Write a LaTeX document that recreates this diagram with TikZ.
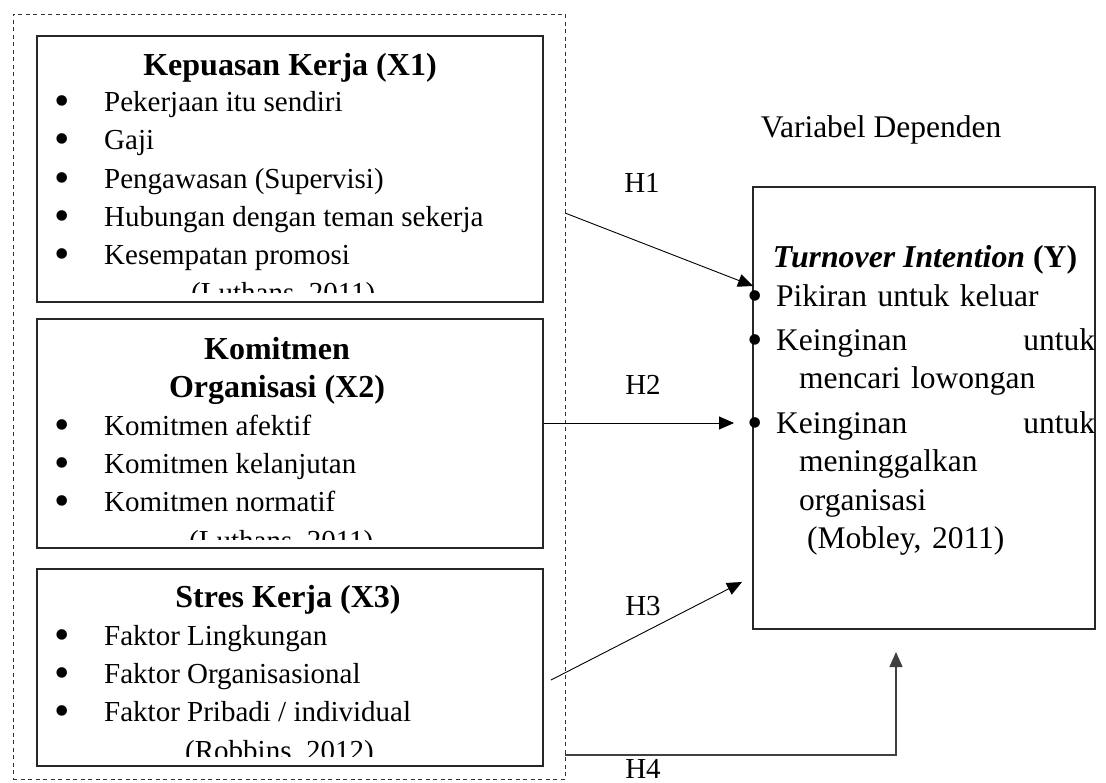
\documentclass[tikz,border=0pt]{standalone}
\usepackage{fontspec}
\setmainfont{Liberation Serif}
\usetikzlibrary{arrows.meta, positioning}

\newcommand{\bigbul}{\makebox[0pt]{\raisebox{-4pt}{\fontsize{44}{44}\selectfont\textbullet}}}
\newcommand{\itembul}{\leavevmode\makebox[47pt][l]{\hspace{5pt}\bigbul}}
\newcommand{\ybul}{\leavevmode\llap{\bigbul\hspace{21pt}}}

\begin{document}
\begin{tikzpicture}[
    x=1pt, y=-1pt,
    varbox/.style={draw=black!85, line width=1.1pt, minimum width=506pt, inner sep=0pt},
    depbox/.style={draw=black!85, line width=1.1pt, minimum width=342pt,
        minimum height=442pt, inner sep=0pt},
    groupbox/.style={draw=black!80, line width=0.9pt, dash pattern=on 4pt off 3.5pt,
        minimum width=552pt, minimum height=765pt, inner sep=0pt},
    boxtitle/.style={font=\fontsize{32}{38}\selectfont\bfseries, align=center,
        inner sep=0pt, anchor=base},
    itemlist/.style={font=\fontsize{29}{38.3}\selectfont, align=left,
        inner sep=0pt, anchor=base west},
    hlabel/.style={font=\fontsize{29}{34}\selectfont, inner sep=0pt, anchor=base},
    hyp/.style={-{Triangle[length=15pt, width=13pt]}, line width=0.9pt, draw=black}
]
\useasboundingbox (0,0) rectangle (1106,783);

% Independent variables (left)
\node[groupbox] (grp) at (289,396.5) {};
\node[varbox, minimum height=266pt] (xa) at (290,169) {};
\node[varbox, minimum height=229pt] (xb) at (290,433.5) {};
\node[varbox, minimum height=197pt] (xc) at (290,667.5) {};

% titles (base = last line)
\node[boxtitle] (xatitle) at (290,76) {Kepuasan Kerja (X1)};
\node[boxtitle] (xbtitle) at (277,398) {Komitmen\\Organisasi (X2)};
\node[boxtitle] (xctitle) at (288,607) {Stres Kerja (X3)};

% lists, cut at the bottom of each box
\begin{scope}
  \clip (xa.north west) rectangle ([yshift=10pt]xa.south east);
  \node[itemlist] (xalist) at (57,303) {\itembul Pekerjaan itu sendiri\\
    \itembul Gaji\\
    \itembul Pengawasan (Supervisi)\\
    \itembul Hubungan dengan teman sekerja\\
    \itembul Kesempatan promosi\\
    \hspace*{134pt}(Luthans, 2011)};
\end{scope}
\begin{scope}
  \clip (xb.north west) rectangle ([yshift=9pt]xb.south east);
  \node[itemlist] (xblist) at (57,550) {\itembul Komitmen afektif\\
    \itembul Komitmen kelanjutan\\
    \itembul Komitmen normatif\\
    \hspace*{132pt}(Luthans, 2011)};
\end{scope}
\begin{scope}
  \clip (xc.north west) rectangle ([yshift=10pt]xc.south east);
  \node[itemlist] (xclist) at (57,760) {\itembul Faktor Lingkungan\\
    \itembul Faktor Organisasional\\
    \itembul Faktor Pribadi / individual\\
    \hspace*{128pt}(Robbins, 2012)};
\end{scope}

% Dependent variable (right)
\node[font=\fontsize{31.5}{38}\selectfont, inner sep=0pt, anchor=base] (deplabel) at (881,138) {Variabel Dependen};
\node[depbox] (ti) at (924,408) {};
\node[font=\fontsize{31.8}{38}\selectfont, inner sep=0pt, anchor=base] (tititle) at (925,268)
    {\textbf{\textit{Turnover Intention} (Y)}};
\node[font=\fontsize{31.5}{38.5}\selectfont, text width=319pt, align=left,
    inner sep=0pt, anchor=base west] (tilist) at (776,307)
    {\ybul Pikiran untuk keluar\\[5pt]
    \ybul Keinginan\hfill untuk\\
    \hspace*{23pt}mencari lowongan\\[6pt]
    \ybul Keinginan\hfill untuk\\
    \hspace*{23pt}meninggalkan\\
    \hspace*{23pt}organisasi\\
    \hspace*{31pt}(Mobley, 2011)};

% Hypotheses
\coordinate (h1s) at (565,213);
\coordinate (h1e) at (753,286);
\coordinate (h2e) at (734,423);
\coordinate (h3s) at (551,680);
\coordinate (h3e) at (742,582);
\coordinate (h4s) at (565,755);
\coordinate (h4e) at (896,652);

\draw[hyp] (h1s) -- (h1e);
\draw[hyp] (xb.east |- h2e) -- (h2e);
\draw[hyp] (h3s) -- (h3e);
\draw[hyp, draw=black!75, line width=1.2pt] (h4s) -| (h4e);

\node[hlabel] (hone) at (642,193) {H1};
\node[hlabel] (htwo) at (643,395) {H2};
\node[hlabel] (hthree) at (643,615) {H3};
\node[hlabel] (hfour) at (643,778) {H4};

\end{tikzpicture}
\end{document}
